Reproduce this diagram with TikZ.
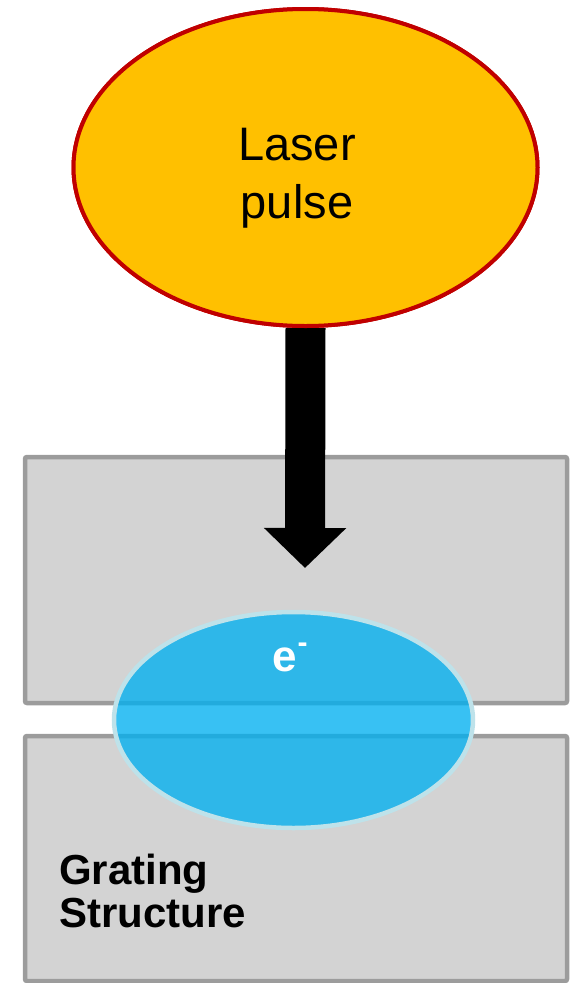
\documentclass[tikz,border=0pt]{standalone}
\usepackage{fontspec}
\setmainfont{Liberation Sans}
\usetikzlibrary{shapes.geometric,arrows.meta}
\definecolor{laserfill}{RGB}{255,192,0}
\definecolor{laserline}{RGB}{192,0,0}
\definecolor{boxfill}{RGB}{211,211,211}
\definecolor{boxline}{RGB}{156,156,156}
\definecolor{ebeam}{RGB}{0,176,240}
\definecolor{eglow}{RGB}{190,226,234}
\tikzset{
  gratingbox/.style={fill=boxfill,draw=boxline,line width=4.5pt,rounded corners=2pt},
  laserstyle/.style={ellipse,fill=laserfill,draw=laserline,line width=4pt,inner sep=0pt,
     minimum width=464pt,minimum height=317pt},
  lasertext/.style={align=center,inner sep=0pt,font=\fontsize{47pt}{58pt}\selectfont},
  beamstyle/.style={ellipse,fill=ebeam,fill opacity=0.78,draw=eglow,draw opacity=1,line width=4.5pt,
     inner sep=0pt,minimum width=359pt,minimum height=216pt},
  blockarrow/.style={line width=40pt,-{Triangle[length=40pt,width=80pt]}}
}
\begin{document}
\begin{tikzpicture}[x=1pt,y=-1pt]
\useasboundingbox (0,0) rectangle (574,983);
% grating halves
\draw[gratingbox] (25,457) rectangle (567,703);
\draw[gratingbox] (25,736) rectangle (567,981);
% laser pulse and its arrow
\node[laserstyle] (laser) at (305.5,167.5) {};
\coordinate (tip) at (305,568);
\draw[blockarrow] (laser.south) -- (tip);
\node[laserstyle] at (laser.center) {};
\node[lasertext,anchor=base] (ltext) at (297,218) {Laser\\pulse};
% electron bunch
\node[beamstyle] (beam) at (293.5,720) {};
\node[text=white,font=\fontsize{44pt}{44pt}\bfseries\selectfont,anchor=base] (elabel) at (290,671) {e\kern1pt\raisebox{0.42em}{\fontsize{30pt}{30pt}\bfseries\selectfont -}};
% label
\node[anchor=base west,align=left,inner sep=0pt,font=\fontsize{42pt}{43pt}\bfseries\selectfont] (glabel) at (59,927) {Grating\\Structure};
\end{tikzpicture}
\end{document}
